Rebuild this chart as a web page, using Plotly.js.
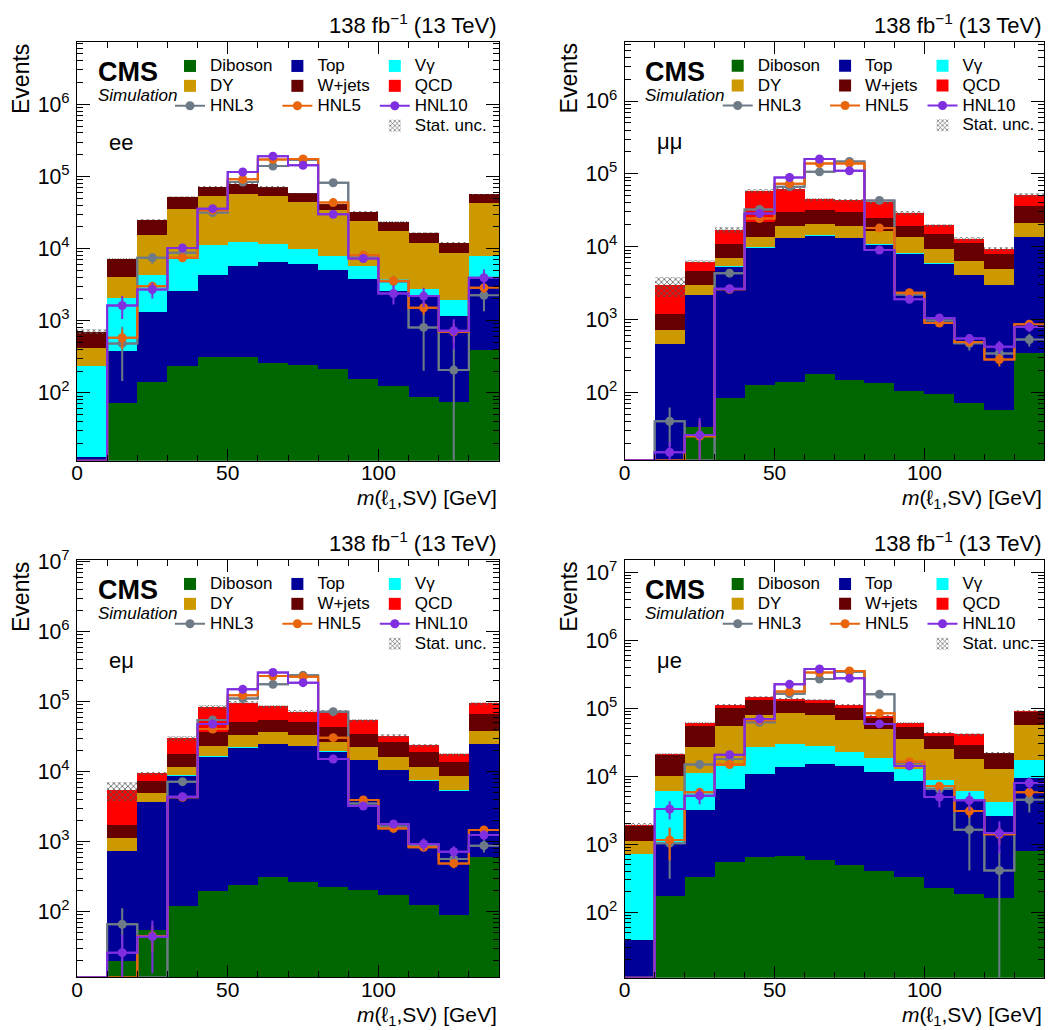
<!DOCTYPE html>
<html><head><meta charset="utf-8">
<script src="https://cdn.plot.ly/plotly-3.0.1.min.js"></script>
<style>html,body{margin:0;padding:0;background:#fff}</style>
</head><body>
<div id="chart" style="width:1051px;height:1030px"></div>
<script>
// ---------------- DATA ----------------
const binEdges   = [0,10,20,30,40,50,60,70,80,90,100,110,120,130,140];
const binCenters = [5,15,25,35,45,55,65,75,85,95,105,115,125,135];
const xTickVals  = [0,50,100];

// ee channel
const ee_diboson = [0,71,142,232,315,312,258,244,215,155,125,87,75,394];
const ee_top     = [13,307,1155,2358,3950,5448,6142,5826,4795,3565,2465,2103,1075,3566];
const ee_vgamma  = [224,1672,2968,4670,6835,6740,5300,3930,2890,2040,1170,550,770,3870];
const ee_dy      = [174,2040,11035,27740,42400,45000,41700,34700,26400,18340,13740,9260,6880,35470];
const ee_wjets   = [289,3170,9700,17400,18500,21800,17800,13500,6700,8300,5900,4600,3300,13000];
const ee_qcd     = [0,0,0,0,0,0,0,0,0,0,0,0,0,0];
const ee_statRel = [0.08,0.03,0.02,0.02,0.02,0.02,0.02,0.02,0.02,0.02,0.02,0.02,0.03,0.02];
const ee_hnl3    = [0,483,7430,8700,31500,83500,139000,170000,81700,8000,3500,804,206,2250];
const ee_hnl5    = [0,578,3000,7430,34000,91000,172000,175000,43300,8100,3560,1510,700,2850];
const ee_hnl10   = [0,1620,2700,10200,35700,115000,191000,143000,29800,7260,2380,2190,723,3930];
const ee_hnl3Rel = [0,0.7,0.17,0.1,0.03,0.02,0.02,0.02,0.03,0.15,0.2,0.75,1.0,0.4];
const ee_hnl5Rel = [0,0.3,0.12,0.08,0.03,0.02,0.02,0.02,0.03,0.1,0.15,0.2,0.3,0.15];
const ee_hnl10Rel= [0,0.35,0.25,0.08,0.03,0.02,0.02,0.02,0.03,0.12,0.3,0.3,0.45,0.3];

// mumu channel
const mm_diboson = [0,0,33,83,126,140,180,147,134,104,95,71,57,341];
const mm_top     = [0,458,2147,5137,9474,12860,13920,12853,10466,7836,5695,3949,2873,13059];
const mm_vgamma  = [0,5,20,180,150,200,200,200,200,150,110,80,60,250];
const mm_dy      = [0,263,790,1600,3950,5800,6200,5800,5400,5610,3400,2340,1960,7650];
const mm_wjets   = [0,454,1610,3900,7900,11100,10900,11100,8600,5800,5600,4660,2990,14700];
const mm_qcd     = [0,1750,1640,6200,36500,31200,13200,13100,16600,9600,4900,1600,1360,15200];
const mm_statRel = [0,0.3,0.05,0.1,0.07,0.06,0.05,0.05,0.07,0.05,0.05,0.06,0.06,0.05];
const mm_hnl3    = [0,40,0,4330,32400,66700,106600,148000,43200,2200,970,470,341,530];
const mm_hnl5    = [0,0,25,2600,24300,73400,139000,139000,18000,2330,895,492,282,860];
const mm_hnl10   = [0,15,26,2640,28500,89000,160000,110000,9000,1890,1050,547,421,790];
const mm_hnl3Rel = [0,0.55,0,0.08,0.03,0.02,0.02,0.02,0.03,0.1,0.1,0.2,0.25,0.2];
const mm_hnl5Rel = [0,0,0.6,0.08,0.03,0.02,0.02,0.02,0.03,0.06,0.08,0.12,0.2,0.12];
const mm_hnl10Rel= [0,0.4,0.7,0.08,0.03,0.02,0.02,0.02,0.04,0.06,0.08,0.15,0.2,0.15];

// emu channel
const em_diboson = [0,20,55,122,200,238,313,268,228,204,173,126,91,597];
const em_top     = [0,716,3595,8648,16200,21762,24187,23032,19072,14496,10427,7304,5259,24203];
const em_vgamma  = [0,8,40,100,200,250,280,270,220,170,120,85,60,280];
const em_dy      = [0,373,1210,2630,6700,11150,12120,9830,7280,7930,5680,3985,3260,13420];
const em_wjets   = [0,613,2460,6400,13600,18400,17800,17900,16200,11700,9800,7800,5230,28200];
const em_qcd     = [0,3740,2100,12000,47900,45000,32000,20700,29000,20200,6200,4700,4000,28000];
const em_statRel = [0,0.3,0.04,0.08,0.06,0.05,0.05,0.05,0.05,0.05,0.05,0.05,0.05,0.04];
const em_hnl3    = [0,66,0,7200,54700,111000,177000,238000,72000,3500,1650,870,565,877];
const em_hnl5    = [0,0,45,4300,40700,124000,233000,228000,30600,3940,1550,830,490,1470];
const em_hnl10   = [0,26,44,4400,48000,150000,262000,187000,15200,3240,1790,926,720,1245];
const em_hnl3Rel = [0,0.7,0,0.08,0.03,0.02,0.02,0.02,0.03,0.08,0.1,0.15,0.2,0.2];
const em_hnl5Rel = [0,0,0.4,0.06,0.03,0.02,0.02,0.02,0.03,0.06,0.08,0.12,0.15,0.1];
const em_hnl10Rel= [0,0.8,0.7,0.06,0.03,0.02,0.02,0.02,0.03,0.06,0.08,0.2,0.2,0.15];

// mue channel
const me_diboson = [0,176,328,546,647,662,591,499,406,336,231,184,161,802];
const me_top     = [39,824,2902,5954,10153,13038,14609,13501,11194,8294,6119,4346,2469,8638];
const me_vgamma  = [677,5010,7870,7700,16500,16100,12700,9100,6800,4070,2580,1480,1510,8160];
const me_dy      = [384,4190,16200,41400,52500,56600,51900,44200,30700,22700,15970,11790,8660,39300];
const me_wjets   = [780,10600,27700,44400,53200,41600,41200,34700,22200,17200,14300,11100,9000,32500];
const me_qcd     = [50,700,5100,12000,15000,8000,12000,10000,5800,7500,4600,12600,300,2600];
const me_statRel = [0.05,0.04,0.03,0.03,0.03,0.03,0.03,0.03,0.03,0.03,0.04,0.05,0.04,0.03];
const me_hnl3    = [0,1040,14900,18000,62200,163000,270000,345000,161000,15500,6500,1640,411,4530];
const me_hnl5    = [0,1160,5810,14900,67000,176000,335000,354000,84400,16400,7130,3080,1400,5810];
const me_hnl10   = [0,3300,5190,20800,69700,225000,379000,276000,58900,14200,4950,4430,1460,7980];
const me_hnl3Rel = [0,0.7,0.15,0.1,0.03,0.02,0.02,0.02,0.03,0.1,0.2,0.75,1.0,0.35];
const me_hnl5Rel = [0,0.5,0.15,0.08,0.03,0.02,0.02,0.02,0.03,0.08,0.15,0.2,0.3,0.15];
const me_hnl10Rel= [0,0.3,0.25,0.08,0.03,0.02,0.02,0.02,0.03,0.1,0.3,0.3,0.5,0.2];

const channelLabels = ['ee','μμ','eμ','μe'];
const stackNames  = ['Diboson','Top','Vγ','DY','W+jets','QCD'];
const hnlNames    = ['HNL3','HNL5','HNL10'];
const statName    = 'Stat. unc.';
const lumiText    = '138 fb<sup>−1</sup> (13 TeV)';
const xTitleText  = '<i>m</i>(ℓ<sub>1</sub>,SV) [GeV]';
const yTitleText  = 'Events';

// ---------------- STYLE / LAYOUT ----------------
const W = 1051, H = 1030;
const FONT = 'Liberation Sans, Arial, Helvetica, sans-serif';
const stackColors = ['#006600','#000099','#00ffff','#cc9900','#660000','#ff0000'];
const stackCols   = [0,1,2,0,1,2];
const hnlColors   = ['#6e7b87','#e8650c','#7f2fe0'];
const legendTextPx = 17;
const legendName = s => '<span style="font-size:' + legendTextPx + 'px">' + s + '</span>';
// frames in pixels: [left, right, top, bottom]
const frames = [[77,499,42,460.7],[624.7,1044.3,41.7,460.3],[77,499,560,977.3],[624.7,1044.3,560,977.7]];
const yRanges = [[1.057,6.864],[1.066,6.815],[1.063,7.024],[1.038,7.181]];

const panels = [
  {stack:[ee_diboson,ee_top,ee_vgamma,ee_dy,ee_wjets,ee_qcd], stat:ee_statRel, hnl:[ee_hnl3,ee_hnl5,ee_hnl10], hnlRel:[ee_hnl3Rel,ee_hnl5Rel,ee_hnl10Rel]},
  {stack:[mm_diboson,mm_top,mm_vgamma,mm_dy,mm_wjets,mm_qcd], stat:mm_statRel, hnl:[mm_hnl3,mm_hnl5,mm_hnl10], hnlRel:[mm_hnl3Rel,mm_hnl5Rel,mm_hnl10Rel]},
  {stack:[em_diboson,em_top,em_vgamma,em_dy,em_wjets,em_qcd], stat:em_statRel, hnl:[em_hnl3,em_hnl5,em_hnl10], hnlRel:[em_hnl3Rel,em_hnl5Rel,em_hnl10Rel]},
  {stack:[me_diboson,me_top,me_vgamma,me_dy,me_wjets,me_qcd], stat:me_statRel, hnl:[me_hnl3,me_hnl5,me_hnl10], hnlRel:[me_hnl3Rel,me_hnl5Rel,me_hnl10Rel]}
];

const traces = [];
const layout = {
  width: W, height: H, margin:{l:0,r:0,t:0,b:0},
  paper_bgcolor:'#fff', plot_bgcolor:'#fff',
  barmode:'stack', bargap:0, hovermode:false, showlegend:true,
  font:{family:FONT, color:'#000'},
  annotations:[]
};

const px = x => x / W;
const py = y => 1 - y / H;

panels.forEach((p, i) => {
  const sfx = i === 0 ? '' : String(i + 1);
  const xa = 'x' + sfx, ya = 'y' + sfx;
  const lg = 'legend' + sfx;
  const [L, R, T, B] = frames[i];
  const grp = c => 'p' + i + 'c' + c;
  const floorVal = Math.pow(10, yRanges[i][0]);

  // stacked backgrounds
  p.stack.forEach((vals, k) => {
    traces.push({
      type:'bar', x: binCenters, y: vals, width: 10, name: legendName(stackNames[k]),
      marker:{color: stackColors[k], line:{width:0}},
      xaxis: xa, yaxis: ya, legend: lg, legendgroup: grp(stackCols[k]),
      hoverinfo:'skip'
    });
  });
  const total = binCenters.map((_, b) => p.stack.reduce((s, v) => s + v[b], 0));

  // HNL signals
  p.hnl.forEach((vals, k) => {
    const col = hnlColors[k];
    const stepY = vals.map(v => v > 0 ? v : floorVal);
    stepY.push(stepY[stepY.length - 1]);
    traces.push({
      type:'scatter', mode:'lines', x: binEdges, y: stepY,
      line:{color: col, width: 2, shape:'hv'}, showlegend:false,
      xaxis: xa, yaxis: ya, legend: lg, hoverinfo:'skip'
    });
    traces.push({
      type:'scatter', mode:'lines+markers', x: binCenters, y: vals, name: legendName(hnlNames[k]),
      line:{color: col, width: 2, shape:'hvh'},
      marker:{color: col, size: 9},
      error_y:{type:'data', array: vals.map((v, b) => v * p.hnlRel[k][b]), visible:true,
               color: col, thickness: 2, width: 0},
      xaxis: xa, yaxis: ya, legend: lg, legendgroup: grp(k), hoverinfo:'skip'
    });
  });

  // stat. uncertainty band
  traces.push({
    type:'bar', x: binCenters, width: 10, name: legendName(statName),
    base: total.map((t, b) => t > 0 ? t * (1 - p.stat[b]) : null),
    y: total.map((t, b) => t > 0 ? 2 * t * p.stat[b] : null),
    marker:{color:'rgba(0,0,0,0)', line:{width:0},
            pattern:{shape:'x', fgcolor:'#555', bgcolor:'rgba(0,0,0,0)', size:4, solidity:0.35}},
    xaxis: xa, yaxis: ya, legend: lg, legendgroup: grp(2), hoverinfo:'skip'
  });

  layout['xaxis' + sfx] = {
    domain:[px(L), px(R)], anchor: ya, range:[0,140],
    tickmode:'array', tickvals: xTickVals,
    ticks:'inside', ticklen:12, tickwidth:1, tickcolor:'#000',
    showline:true, linecolor:'#000', linewidth:1, mirror:'ticks',
    showgrid:false, zeroline:false, fixedrange:true,
    tickfont:{size:21, family:FONT, color:'#000'}, ticklabelstandoff:-7,
    minor:{dtick:10, tick0:0, ticks:'inside', ticklen:6, tickwidth:1, tickcolor:'#000', showgrid:false}
  };
  layout['yaxis' + sfx] = {
    domain:[py(B), py(T)], anchor: xa, type:'log', range: yRanges[i],
    dtick:1, exponentformat:'power', showexponent:'all',
    ticks:'inside', ticklen:13, tickwidth:1, tickcolor:'#000',
    showline:true, linecolor:'#000', linewidth:1, mirror:'ticks',
    showgrid:false, zeroline:false, fixedrange:true,
    tickfont:{size:17, family:FONT, color:'#000'}, ticklabelstandoff:3,
    minor:{dtick:'D1', ticks:'inside', ticklen:6, tickwidth:1, tickcolor:'#000', showgrid:false}
  };
  layout[lg] = {
    x: px(L + 93), y: py(T + 9), xanchor:'left', yanchor:'top',
    orientation:'h', traceorder:'grouped', bgcolor:'rgba(0,0,0,0)', borderwidth:0,
    font:{size:13, family:FONT, color:'#000'}
  };

  const ann = (x, y, text, size, xa_, ya_, extra) => layout.annotations.push(Object.assign({
    xref:'paper', yref:'paper', x: px(x), y: py(y), text, showarrow:false,
    xanchor: xa_, yanchor: ya_, font:{size, family:FONT, color:'#000'}
  }, extra || {}));
  ann(R, T - 18, lumiText, 22, 'right', 'middle');
  ann(L + 18.7, T + 30, '<b>CMS</b>', 27, 'left', 'middle');
  ann(L + 18.7, T + 53.5, '<i>Simulation</i>', 17, 'left', 'middle');
  ann(L + 30, T + 100, channelLabels[i], 22, 'left', 'middle');
  ann(L - 56, T, yTitleText, 23, 'center', 'top', {textangle:-90});
  ann(R, B + 38.5, xTitleText, 21, 'right', 'middle');
});

Plotly.newPlot('chart', traces, layout, {staticPlot:true, displayModeBar:false});
</script>
</body></html>
